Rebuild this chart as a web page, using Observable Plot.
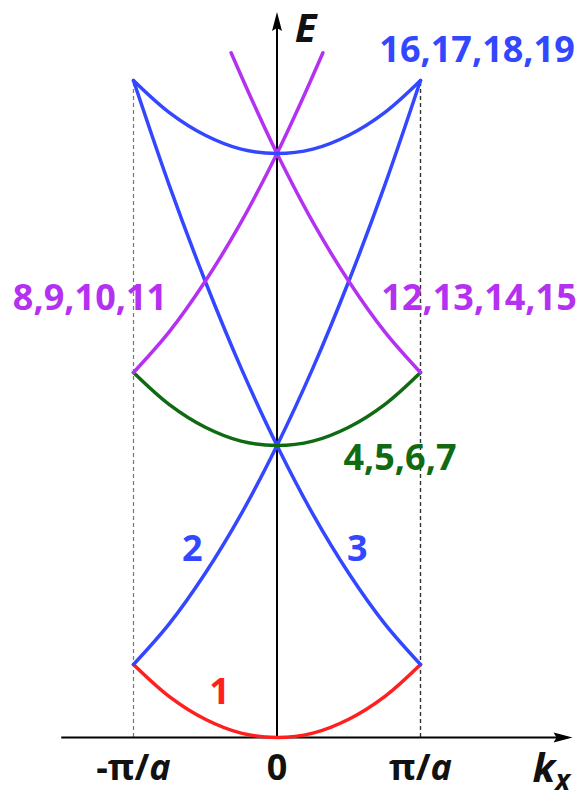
<!DOCTYPE html>
<html>
<head>
<meta charset="utf-8">
<script src="https://cdn.jsdelivr.net/npm/d3@7"></script>
<script src="https://cdn.jsdelivr.net/npm/@observablehq/plot@0.6"></script>
<style>
  html, body { margin: 0; padding: 0; background: #fff; }
</style>
</head>
<body>
<div id="chart"></div>
<script>
// Empty-lattice bands along k_x, energies in units of (ħ²/2m)(π/a)²
const kFull = [-1, -0.75, -0.5, -0.25, 0, 0.25, 0.5, 0.75, 1];
const band1 = [1, 0.56, 0.25, 0.06, 0, 0.06, 0.25, 0.56, 1];
const band2 = [1, 1.56, 2.25, 3.06, 4, 5.06, 6.25, 7.56, 9];
const band3 = [9, 7.56, 6.25, 5.06, 4, 3.06, 2.25, 1.56, 1];
const band4to7 = [5, 4.56, 4.25, 4.06, 4, 4.06, 4.25, 4.56, 5];
const band16to19 = [9, 8.56, 8.25, 8.06, 8, 8.06, 8.25, 8.56, 9];
const kLeftBranch = [-1, -0.75, -0.5, -0.25, 0, 0.16, 0.32];
const band8to11 = [5, 5.56, 6.25, 7.06, 8, 8.67, 9.38];
const kRightBranch = [-0.32, -0.16, 0, 0.25, 0.5, 0.75, 1];
const band12to15 = [9.38, 8.67, 8, 7.06, 6.25, 5.56, 5];

// Band labels: text, colour, anchor position (k, E)
const labelText = ["16,17,18,19", "8,9,10,11", "12,13,14,15", "4,5,6,7", "2", "3", "1"];
const labelColor = ["#3247ff", "#b431f2", "#b431f2", "#0f6a12", "#3247ff", "#3247ff", "#ff1f1f"];
const labelK = [1.394, -1.303, 1.408, 0.857, -0.59, 0.56, -0.40];
const labelE = [9.41, 6.01, 6.01, 3.82, 2.58, 2.58, 0.62];

// Zone-boundary ticks
const tickK = [-1, 0, 1];
const tickLabels = ["-π/a", "0", "π/a"];

const BLUE = "#3247ff", PURPLE = "#b431f2", GREEN = "#0f6a12", RED = "#ff1f1f";

const toRows = (ks, es) => ks.map((k, i) => ({k, E: es[i]}));
const curves = [
  {rows: toRows(kFull, band1), color: RED},
  {rows: toRows(kFull, band2), color: BLUE},
  {rows: toRows(kFull, band3), color: BLUE},
  {rows: toRows(kFull, band4to7), color: GREEN},
  {rows: toRows(kLeftBranch, band8to11), color: PURPLE},
  {rows: toRows(kRightBranch, band12to15), color: PURPLE},
  {rows: toRows(kFull, band16to19), color: BLUE}
];
const labels = labelText.map((t, i) => ({t, c: labelColor[i], k: labelK[i], E: labelE[i]}));
const ticks = tickK.map((k, i) => ({k, t: tickLabels[i]}));

// slender filled arrowhead, tip pointing up
const arrowHead = {
  draw(ctx) {
    ctx.moveTo(0, -10);
    ctx.lineTo(5, 9);
    ctx.lineTo(0, 6);
    ctx.lineTo(-5, 9);
    ctx.closePath();
  }
};

const font = "'Open Sans', sans-serif";

const plot = Plot.plot({
  width: 582,
  height: 798,
  margin: 0,
  x: {domain: [-1, 1], range: [133, 420], axis: null},
  y: {domain: [0, 9], range: [737, 80], axis: null},
  style: {background: "#fff", fontFamily: font},
  marks: [
    // zone boundaries
    Plot.ruleX([-1], {y1: 0, y2: 9, stroke: "#777", strokeWidth: 1.2, strokeDasharray: "4,3"}),
    Plot.ruleX([1], {y1: 0, y2: 9, stroke: "#333", strokeWidth: 1.4, strokeDasharray: "4,3"}),
    // axes
    Plot.ruleY([0], {x1: -1.5, x2: 2.0, stroke: "#000", strokeWidth: 2}),
    Plot.ruleX([0], {y1: 0, y2: 9.8, stroke: "#000", strokeWidth: 2}),
    Plot.dot([{k: 1.99, E: 0}], {x: "k", y: "E", symbol: arrowHead, r: 6, fill: "#000", stroke: "none", rotate: 90}),
    Plot.dot([{k: 0, E: 9.8}], {x: "k", y: "E", symbol: arrowHead, r: 6, fill: "#000", stroke: "none"}),
    // bands
    ...curves.map(c => Plot.line(c.rows, {x: "k", y: "E", stroke: c.color, strokeWidth: 3.5, curve: "catmull-rom"})),
    // band indices
    Plot.text(labels, {x: "k", y: "E", text: "t", fill: "c", fontSize: 36, fontWeight: "bold"}),
    // tick labels
    Plot.text(ticks, {x: "k", y: -0.42, text: "t", fill: "#111", fontSize: 36, fontWeight: "bold"}),
    // axis titles
    Plot.text(["E"], {x: 0.2, y: 9.7, text: d => d, fill: "#111", fontSize: 40, fontWeight: "bold", fontStyle: "italic"}),
    Plot.text(["k"], {x: 1.78, y: -0.43, text: d => d, textAnchor: "start", fill: "#111", fontSize: 40, fontWeight: "bold", fontStyle: "italic"})
  ]
});

// typographic touches: italic "a" and subscript x
d3.select(plot).selectAll("text").each(function () {
  const el = d3.select(this);
  const s = this.textContent;
  if (s.endsWith("/a")) {
    el.text(s.slice(0, -1));
    el.append("tspan").attr("font-style", "italic").text("a");
  } else if (s === "k") {
    el.append("tspan").attr("font-size", 28).attr("dy", "0.3em").text("x");
  }
});

document.getElementById("chart").append(plot);
</script>
</body>
</html>
